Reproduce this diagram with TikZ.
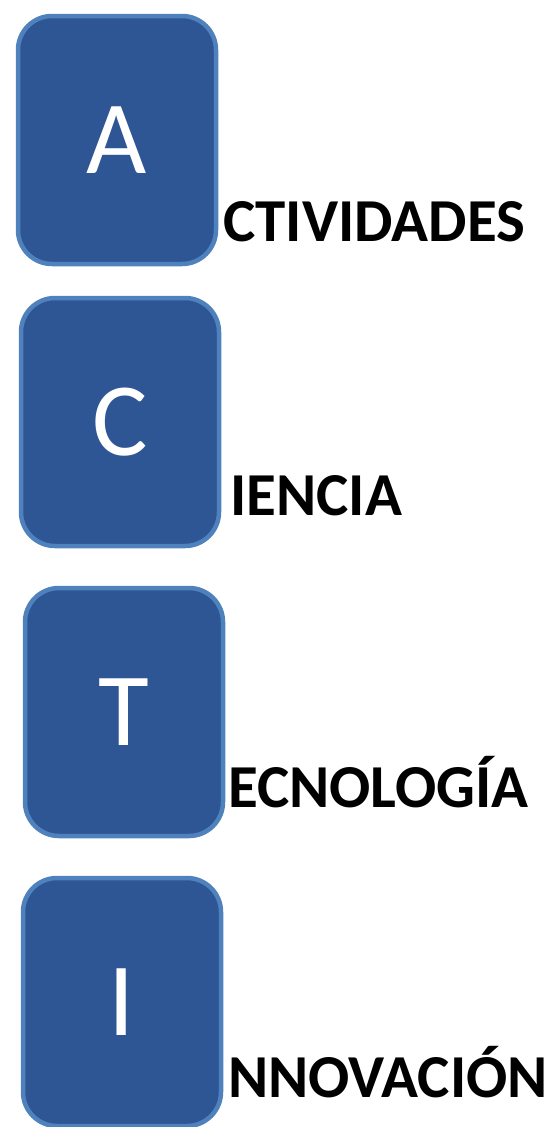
\documentclass[tikz,border=0pt]{standalone}
\usepackage{fontspec}
\setmainfont{Carlito}
\definecolor{boxfill}{RGB}{46,86,148}
\definecolor{boxline}{RGB}{79,129,189}
\begin{document}
\begin{tikzpicture}[x=1pt,y=-1pt,
  letterbox/.style={draw=boxline, line width=4.5pt, fill=boxfill, rounded corners=34pt,
     minimum width=198pt, minimum height=248pt, inner sep=0pt, text=white,
     font=\fontsize{104}{104}\selectfont},
  word/.style={anchor=base west, inner sep=0pt, font=\fontsize{61}{61}\selectfont\bfseries}]
\useasboundingbox (0,0) rectangle (554,1127);
\node[letterbox] (a) at (117,140) {A};
\node[letterbox] (c) at (120,422) {C};
\node[letterbox] (t) at (124,712) {T};
\node[letterbox] (i) at (122,1002) {I};
\node[word] (wa) at (223,241) {CTIVIDADES};
\node[word] (wc) at (230,515) {IENCIA};
\node[word] (wt) at (228,807) {ECNOLOGÍA};
\node[word] (wi) at (228,1097) {NNOVACIÓN};
\end{tikzpicture}
\end{document}
